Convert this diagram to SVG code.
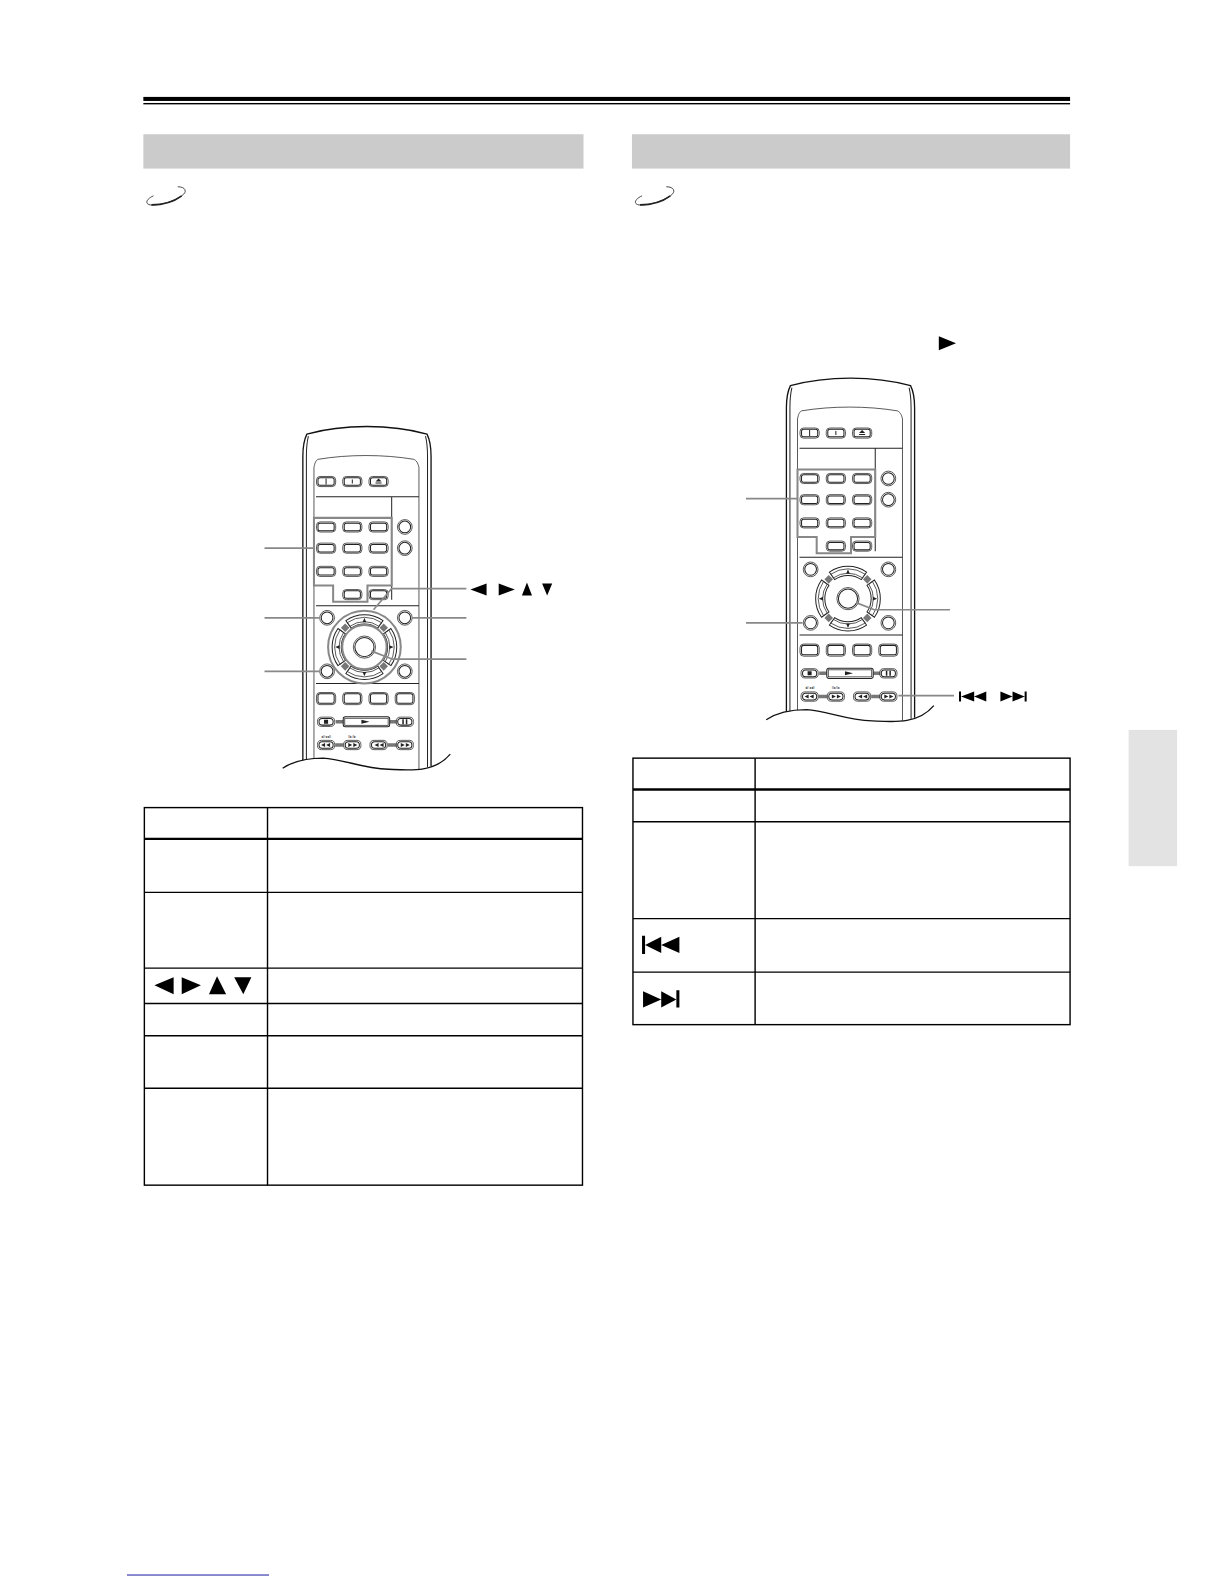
<svg xmlns="http://www.w3.org/2000/svg" width="1224" height="1584" viewBox="0 0 1224 1584">
<style>
.b{fill:none;stroke:#222;stroke-width:1}
.t{fill:none;stroke:#333;stroke-width:.8}
.o{fill:none;stroke:#111;stroke-width:1.3}
.g{fill:none;stroke:#888;stroke-width:2}
.c{fill:none;stroke:#888;stroke-width:1.7}
.tb{fill:none;stroke:#000;stroke-width:1.4}
.k{fill:#000}
.f{fill:#222}
.s{fill:#777}
</style>
<defs>
<g id="bw"><rect x="-9.5" y="-5" width="19" height="10" rx="3.5" class="t"/><rect x="-8" y="-3.7" width="16" height="7.4" rx="2" class="b"/></g>
<g id="bl"><rect x="-9.5" y="-6" width="19" height="12" rx="3.5" class="t"/><rect x="-8" y="-4.7" width="16" height="9.4" rx="2" class="b"/></g>
<g id="bs"><rect x="-8.5" y="-4.6" width="17" height="9.2" rx="4" class="t"/><rect x="-7" y="-3.3" width="14" height="6.6" rx="3" class="b"/></g>
<g id="rb"><circle r="7.3" class="t"/><circle r="5.8" class="b"/></g>
<g id="dir"><path d="M-18.4 -26.2A32 32 0 0 1 18.4 -26.2L13.2 -18.8A23 23 0 0 0 -13.2 -18.8Z" class="b"/><path d="M-17 -24.2A29.8 29.8 0 0 1 17 -24.2L14.4 -20.6A25 25 0 0 0 -14.4 -20.6Z" class="t"/><path d="M-1.8 -24.6H1.8L0 -29Z" class="f"/></g>
<g id="remote">
<path d="M300 753V452C300 442 301 436 304 430C340 420 387 420 423 430C426 436 427 442 427 452V759" class="o"/>
<path d="M303.5 752.5V452C303.5 444 304 438 305.5 432M423.5 760V452C423.5 444 423 438 421.5 432" class="b"/>
<path d="M311 751.5V463C312 458 313 456 315 455C345 450 380 450 410 455C412 456 414 458 415 463V762" class="t"/>
<path d="M313 492H415M388 492V594M313 600H415M313 677H415" class="b"/>
<use href="#bw" x="323" y="477"/><use href="#bw" x="349" y="477"/><use href="#bw" x="375" y="477"/>
<path d="M323 474V480M349 475V479M372 478.5H378" class="b"/><path d="M372 477L375 474L378 477Z" class="f"/>
<use href="#bw" x="323" y="522"/><use href="#bw" x="349" y="522"/><use href="#bw" x="375" y="522"/>
<use href="#bw" x="323" y="543"/><use href="#bw" x="349" y="543"/><use href="#bw" x="375" y="543"/>
<use href="#bw" x="323" y="566"/><use href="#bw" x="349" y="566"/><use href="#bw" x="375" y="566"/>
<use href="#bw" x="349" y="589"/><use href="#bw" x="375" y="589"/>
<use href="#rb" x="401" y="522"/><use href="#rb" x="401" y="543"/>
<use href="#rb" x="324" y="612"/><use href="#rb" x="401" y="612"/><use href="#rb" x="324" y="665"/><use href="#rb" x="401" y="665"/>
<g transform="translate(361 641)">
<use href="#dir"/><use href="#dir" transform="rotate(90)"/><use href="#dir" transform="rotate(180)"/><use href="#dir" transform="rotate(-90)"/>
<g class="s"><rect x="-3" y="-30" width="6" height="6" transform="rotate(45)"/><rect x="-3" y="-30" width="6" height="6" transform="rotate(135)"/><rect x="-3" y="-30" width="6" height="6" transform="rotate(225)"/><rect x="-3" y="-30" width="6" height="6" transform="rotate(315)"/></g>
<circle r="11" class="t"/><circle r="9.5" class="b"/>
</g>
<path d="M332.5 715H340M386 715H393" stroke="#777" stroke-width="3.5" fill="none"/>
<path d="M332 738H340.5M384 738H393" stroke="#777" stroke-width="3.5" fill="none"/>
<use href="#bl" x="323" y="692"/><use href="#bl" x="349" y="692"/><use href="#bl" x="375" y="692"/><use href="#bl" x="401" y="692"/>
<use href="#bs" x="323" y="715"/><rect x="340" y="710" width="46" height="10" rx="2" class="b"/><rect x="341.5" y="711.5" width="43" height="7" class="t"/><use href="#bs" x="401" y="715"/>
<path d="M321 713H325V717H321ZM358 713L366 715L358 717ZM398.5 712.5H400V717.5H398.5ZM402 712.5H403.5V717.5H402Z" class="f"/>
<use href="#bs" x="323" y="738"/><use href="#bs" x="349" y="738"/><use href="#bs" x="375" y="738"/><use href="#bs" x="401" y="738"/>
<path d="M318 738L322 736V740ZM323 738L327 736V740ZM345 736L349 738L345 740ZM350 736L354 738L350 740ZM371 738L375 736V740ZM376 738L380 736V740ZM397 736L401 738L397 740ZM402 736L406 738L402 740Z" class="f"/>
<text x="323" y="731" font-family="Liberation Sans, sans-serif" font-size="3.6" text-anchor="middle" fill="#333">◂I/◂◂II</text>
<text x="349" y="731" font-family="Liberation Sans, sans-serif" font-size="3.6" text-anchor="middle" fill="#333">II▸/I▸</text>
<path d="M280 761C292 753 305 751 320 751C340 752 358 761 385 762C405 763 430 766 446 747" class="o"/>
</g>
</defs>
<g id="page" transform="scale(1.0095)">
<g id="page-header">
<rect x="142" y="96" width="918" height="4" class="k"/>
<rect x="142" y="102" width="918" height="1.4" class="k"/>
<rect id="band-left" x="142" y="133" width="436" height="34" fill="#cbcbcb"/>
<rect id="band-right" x="626" y="133" width="434" height="34" fill="#cbcbcb"/>
<rect id="side-tab" x="1118" y="723" width="48" height="135" fill="#e3e3e3"/>
</g>
<g id="disc-icon-left"><path d="M176 185C184 185 186 190 180 194C172 200 155 204 149 203C143 202 145 197 152 194" fill="none" stroke="#222" stroke-width=".8"/><path d="M180 194C172 200 160 203 150 203" fill="none" stroke="#222" stroke-width="1.6"/></g>
<g id="disc-icon-right" transform="translate(484 0)"><path d="M176 185C184 185 186 190 180 194C172 200 155 204 149 203C143 202 145 197 152 194" fill="none" stroke="#222" stroke-width=".8"/><path d="M180 194C172 200 160 203 150 203" fill="none" stroke="#222" stroke-width="1.6"/></g>
<path id="play-mark" d="M930 333L947 340L930 347Z" class="k"/>
<g id="remote-left"><use href="#remote"/>
<path d="M311 513H388V580H364V596H330V580H311Z" class="g"/>
<circle cx="361" cy="641" r="36" class="g"/><circle cx="361" cy="641" r="22" class="g"/>
</g>
<g id="remote-right" transform="translate(479 -48)"><use href="#remote"/>
<path d="M311 513H388V580H364V596H330V580H311Z" class="g"/>
</g>
<g id="connectors">
<path d="M262 543H311" class="c"/>
<path d="M262 612H316" class="c"/>
<path d="M262 665H316" class="c"/>
<path d="M462 583H388L370 604" class="c"/>
<path d="M462 612H408" class="c"/>
<path d="M462 653H389L368 645" class="c"/>
<path d="M739 494H790" class="c"/>
<path d="M739 617H795" class="c"/>
<path d="M941 604H866L848 597" class="c"/>
<path d="M890 689H945" class="c"/>
</g>
<g id="labels-left" class="k">
<path d="M466 584L482 578V590ZM494 578L510 584L494 590ZM517 590L522 577L527 590ZM537 578H547L542 590Z"/>
</g>
<g id="labels-right" class="k">
<path d="M950 685H952V695H950ZM952 690L965 685V695ZM965 690L977 685V695ZM991 685L1003 690L991 695ZM1003 685L1015 690L1003 695ZM1015 685H1017V695H1015Z"/>
</g>
<g id="table-left">
<rect x="143" y="800" width="434" height="374" class="tb"/>
<path d="M265 800V1174M143 884H577M143 959H577M143 994H577M143 1026H577M143 1078H577" class="tb"/>
<path d="M143 831H577" fill="none" stroke="#000" stroke-width="2.4"/>
<path d="M153 976L172 968V985ZM180 968L199 976L180 985ZM207 985L215 967L224 985ZM232 968H249L241 985Z" class="k"/>
</g>
<g id="table-right">
<rect x="627" y="751" width="433" height="264" class="tb"/>
<path d="M748 751V1015M627 814H1060M627 910H1060M627 963H1060" class="tb"/>
<path d="M627 782H1060" fill="none" stroke="#000" stroke-width="2.4"/>
<path d="M636 927H639V945H636ZM639 936L655 928V944ZM655 936L673 928V944ZM637 982L655 990L637 998ZM655 982L670 990L655 998ZM670 981H673V998H670Z" class="k"/>
</g>
<rect id="footer-rule" x="125.8" y="1559.7" width="140.7" height="1" fill="#1a1aa0"/>
</g>
</svg>
